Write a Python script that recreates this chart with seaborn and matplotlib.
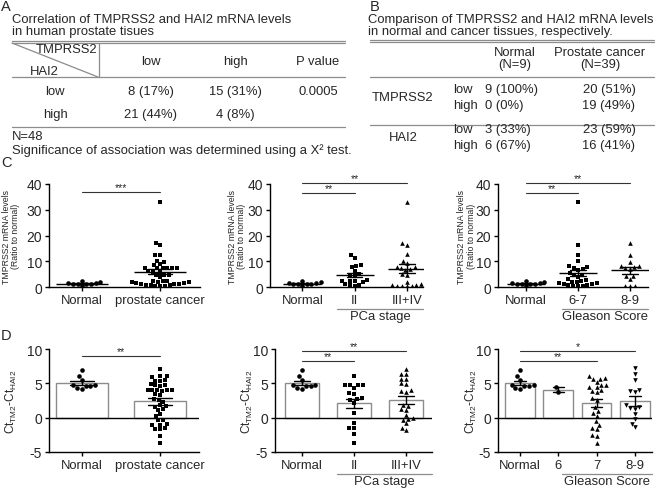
import warnings
import numpy as np
import pandas as pd
import matplotlib
matplotlib.use("Agg")
import matplotlib.pyplot as plt
import matplotlib.transforms as mtransforms
import seaborn as sns

warnings.filterwarnings("ignore")

########################################
# data
########################################
# C: TMPRSS2 mRNA levels (ratio to normal)
c_normal = [1.5, 1.3, 1.2, 0.3, 2.3, 1.2, 1.1, 1.4, 1.8]
c_pca = [33.0, 17.0, 16.3, 12.5, 12.3, 10.2, 9.8, 8.8, 8.6, 7.4, 7.5, 7.3, 7.4,
         7.2, 7.5, 6.0, 6.1, 5.8, 4.8, 4.6, 4.7, 3.8, 2.5, 2.4, 2.2, 2.0, 1.9,
         1.8, 1.6, 1.4, 1.3, 1.2, 1.0, 0.9, 0.8, 0.6, 0.5, 0.3, 0.2]
c_stage2 = [12.5, 11.2, 8.5, 8.3, 7.6, 6.2, 5.0, 4.5, 4.3, 2.7, 2.5, 2.4, 2.3,
            2.0, 1.2, 0.9, 0.7, 0.5]
c_stage34 = [33.0, 17.0, 16.5, 12.8, 10.0, 9.2, 7.8, 7.5, 7.6, 7.0, 6.5, 5.2,
             4.8, 2.0, 1.0, 0.5, 0.4, 0.3, 0.2, 0.6, 0.8]
c_gs67 = [33.0, 16.3, 12.5, 10.2, 8.0, 7.8, 7.2, 7.0, 6.5, 5.5, 4.8, 4.6, 3.8,
          3.2, 2.6, 2.4, 2.1, 1.9, 1.7, 1.5, 1.3, 1.1, 0.9, 0.7, 0.5, 0.3, 0.2]
c_gs89 = [17.0, 12.3, 9.8, 8.2, 7.8, 7.5, 8.0, 7.0, 4.4, 4.2, 3.0, 0.4, 0.2, 0.5]

# D: Ct(TM2) - Ct(HAI2)
d_normal = [6.9, 6.0, 5.5, 4.7, 4.6, 4.7, 4.6, 4.3, 4.2]
d_pca = [7.1, 6.1, 6.0, 5.9, 5.5, 5.4, 5.3, 4.9, 4.8, 4.7, 4.6, 4.1, 4.0, 4.0,
         3.9, 4.1, 4.0, 3.4, 3.3, 2.7, 2.6, 2.3, 1.8, 1.7, 1.6, 1.2, 1.1, 0.5,
         0.2, -0.3, -0.4, -0.9, -1.0, -1.6, -1.5, -1.7, -2.6, -3.7, -1.1]
d_stage2 = [6.0, 4.8, 4.7, 4.8, 4.7, 4.3, 3.6, 3.5, 2.8, 2.7, 2.6, 2.2, 0.7,
            -0.8, -1.5, -1.5, -2.4, -3.7]
d_stage34 = [7.1, 6.4, 6.3, 5.7, 5.6, 5.0, 4.9, 4.0, 3.9, 3.8, 1.8, 1.7, 1.1,
             1.2, 0.4, -0.2, -0.1, -0.3, -0.8, -1.5, -1.8]
d_gs6 = [3.8, 4.4]
d_gs7 = [6.0, 5.8, 5.7, 5.6, 5.2, 4.8, 4.7, 4.5, 4.4, 4.0, 3.9, 3.8, 2.8, 2.6,
         1.5, 1.0, 0.7, 0.2, -0.5, -1.0, -1.6, -1.5, -2.5, -2.6, -3.7]
d_gs89 = [7.2, 6.4, 5.5, 4.0, 3.8, 3.9, 1.8, 1.5, 1.4, 1.2, 0.5, -0.2, -0.9, -1.4]

# A: table
a_title = ["Correlation of TMPRSS2 and HAI2 mRNA levels", "in human prostate tisues"]
a_cols = ["low", "high", "P value"]
a_rows = ["low", "high"]
a_cells = [["8 (17%)", "15 (31%)", "0.0005"],
           ["21 (44%)", "4 (8%)", ""]]
a_notes = ["N=48", "Significance of association was determined using a X\u00b2 test."]

# B: table
b_title = ["Comparison of TMPRSS2 and HAI2 mRNA levels",
           "in normal and cancer tissues, respectively."]
b_cols = ["Normal\n(N=9)", "Prostate cancer\n(N=39)"]
b_genes = ["TMPRSS2", "HAI2"]
b_levels = ["low", "high"]
b_normal = [["9 (100%)", "0 (0%)"], ["3 (33%)", "6 (67%)"]]
b_cancer = [["20 (51%)", "19 (49%)"], ["23 (59%)", "16 (41%)"]]

########################################
# style
########################################
sns.set_style("ticks")
plt.rcParams["font.family"] = ["Liberation Sans", "DejaVu Sans"]
plt.rcParams["mathtext.default"] = "regular"
plt.rcParams["axes.unicode_minus"] = False
FS = 9.4      # table text
XFS = 9.4     # category labels
YFS = 10      # y tick labels
W, H = 658, 489
fig = plt.figure(figsize=(W / 100, H / 100), dpi=100)


def px_axes(l, t, r, b):
    ax = fig.add_axes([l / W, 1 - b / H, (r - l) / W, (b - t) / H])
    ax.patch.set_alpha(0)
    return ax


# canvas in pixel units for the tables and panel letters
cv = fig.add_axes([0, 0, 1, 1])
cv.set_xlim(0, W)
cv.set_ylim(H, 0)
cv.axis("off")

rule = dict(color="#8c8c8c", lw=0.9)
for letter, (x, y) in zip("ABCD", [(1, 7), (370, 7), (1, 163), (1, 336)]):
    cv.text(x, y, letter, fontsize=10.5, va="center", ha="left")

##########
# table A
##########
for i, line in enumerate(a_title):
    cv.text(12, 20 + 12 * i, line, fontsize=FS, va="center")
for y in (42, 44.2):
    cv.plot([12, 345], [y, y], **rule)
cv.plot([12, 98], [44, 78], **rule)
cv.plot([99, 99], [44, 78], **rule)
cv.text(97, 50, "TMPRSS2", fontsize=FS, va="center", ha="right")
cv.text(30, 72, "HAI2", fontsize=FS, va="center", ha="left")
col_x = [151, 235, 318]
for x, c in zip(col_x, a_cols):
    cv.text(x, 62, c, fontsize=FS, va="center", ha="center")
cv.plot([12, 345], [78, 78], **rule)
for j, (r, row) in enumerate(zip(a_rows, a_cells)):
    y = 92 + 23 * j
    cv.text(55, y, r, fontsize=FS, va="center", ha="center")
    for x, v in zip(col_x, row):
        cv.text(x, y, v, fontsize=FS, va="center", ha="center")
cv.plot([12, 345], [128, 128], **rule)
for i, line in enumerate(a_notes):
    cv.text(12, 137 + 14 * i, line, fontsize=FS, va="center")

##########
# table B
##########
for i, line in enumerate(b_title):
    cv.text(368, 20 + 12 * i, line, fontsize=FS, va="center")
for y in (41, 43.2):
    cv.plot([370, 654], [y, y], **rule)
for x, c in zip([515, 600], b_cols):
    cv.text(x, 59, c, fontsize=FS, va="center", ha="center", linespacing=1.0)
cv.plot([370, 654], [78, 78], **rule)
for g, gene in enumerate(b_genes):
    y0 = 98 + 40 * g
    cv.text(403, y0, gene, fontsize=FS, va="center", ha="center")
    for k, lev in enumerate(b_levels):
        y = y0 - 8 + 16 * k
        cv.text(453, y, lev, fontsize=FS, va="center", ha="left")
        cv.text(485, y, b_normal[g][k], fontsize=FS, va="center", ha="left")
        cv.text(609, y, b_cancer[g][k], fontsize=FS, va="center", ha="center")
cv.plot([370, 654], [126, 126], **rule)


########################################
# scatter / bar panels
########################################
def panel(ax, groups, markers, kind, xlim, ylim, yticks, ylabel, ylab_x,
          sigs, ylab_fs, group_label=None, width=0.66, mean_ms=30):
    cats = [g[0] for g in groups]
    df = pd.concat([pd.DataFrame({"grp": n, "val": v}) for n, v in groups])
    if kind == "bar":
        sns.barplot(df, x="grp", y="val", order=cats, errorbar=None,
                    width=width, color="white", edgecolor="#8c8c8c",
                    linewidth=1.0, ax=ax)
    for (n, v), m in zip(groups, markers):
        sns.swarmplot(x=[n] * len(v), y=v, order=cats, marker=m, color="k",
                      size=3.3, ax=ax, zorder=3)
    sns.pointplot(df, x="grp", y="val", order=cats, errorbar="se",
                  capsize=0.3, markers="_", linestyle="none", color="k",
                  markersize=mean_ms if kind == "dot" else 0,
                  markeredgewidth=1.0, err_kws={"linewidth": 1.0}, ax=ax)
    if kind == "bar":
        ax.axhline(0, color="k", lw=1.0, zorder=1)
    ax.set_xlim(*xlim)
    ax.set_ylim(*ylim)
    ax.set_yticks(yticks)
    ax.set_xticks(range(len(cats)))
    ax.set_xticklabels(cats)
    ax.set_xlabel("")
    ax.set_ylabel(ylabel, fontsize=ylab_fs, linespacing=1.0)
    ax.yaxis.set_label_coords(ylab_x, 0.5)
    ax.tick_params(length=3, width=1.0, pad=2, color="k")
    ax.tick_params(axis="x", labelsize=XFS)
    ax.tick_params(axis="y", labelsize=YFS)
    sns.despine(ax=ax)
    for s in ("left", "bottom"):
        ax.spines[s].set_linewidth(1.0)
        ax.spines[s].set_color("k")
    for i, j, y, stars in sigs:
        ax.plot([i, j], [y, y], color="#333333", lw=0.8, clip_on=False)
        ax.text((i + j) / 2, y, stars, ha="center", va="bottom", fontsize=7.5,
                clip_on=False)
    if group_label:
        txt, x0, x1 = group_label
        tr = mtransforms.blended_transform_factory(ax.transData, ax.transAxes)
        ax.plot([x0, x1], [-0.21, -0.21], color="#8c8c8c", lw=0.9,
                transform=tr, clip_on=False)
        ax.text((x0 + x1) / 2, -0.285, txt, transform=tr, ha="center",
                va="center", fontsize=XFS)


c_lab = "TMPRSS2 mRNA levels\n(Ratio to normal)"
d_lab = "Ct$_{TM2}$-Ct$_{HAI2}$"
c_ticks = [0, 10, 20, 30, 40]
d_ticks = [-5, 0, 5, 10]

panel(px_axes(49, 185, 200, 288),
      [("Normal", c_normal), ("prostate cancer", c_pca)], ["o", "s"], "dot",
      (-0.42, 1.51), (0, 40), c_ticks, c_lab, -0.19,
      [(0, 1, 36.9, "***")], 6.3, mean_ms=37)
panel(px_axes(270, 185, 423, 288),
      [("Normal", c_normal), ("II", c_stage2), ("III+IV", c_stage34)],
      ["o", "s", "^"], "dot", (-0.62, 2.31), (0, 40), c_ticks, c_lab, -0.155,
      [(0, 1, 36.5, "**"), (0, 2, 40.4, "**")], 6.3,
      group_label=("PCa stage", 0.67, 2.31), mean_ms=27)
panel(px_axes(498, 185, 648, 288),
      [("Normal", c_normal), ("6-7", c_gs67), ("8-9", c_gs89)],
      ["o", "s", "^"], "dot", (-0.54, 2.35), (0, 40), c_ticks, c_lab, -0.15,
      [(0, 1, 36.5, "**"), (0, 2, 40.4, "**")], 6.3,
      group_label=("Gleason Score", 0.69, 2.35), mean_ms=27)

panel(px_axes(49, 350, 199, 453),
      [("Normal", d_normal), ("prostate cancer", d_pca)], ["o", "s"], "bar",
      (-0.42, 1.5), (-5, 10), d_ticks, d_lab, -0.2,
      [(0, 1, 9.0, "**")], 8.5, width=0.67)
panel(px_axes(275, 350, 432, 453),
      [("Normal", d_normal), ("II", d_stage2), ("III+IV", d_stage34)],
      ["o", "s", "^"], "bar", (-0.52, 2.5), (-5, 10), d_ticks, d_lab, -0.125,
      [(0, 1, 8.3, "**"), (0, 2, 9.75, "**")], 8.5,
      group_label=("PCa stage", 0.67, 2.5), width=0.67)
panel(px_axes(498, 350, 652, 453),
      [("Normal", d_normal), ("6", d_gs6), ("7", d_gs7), ("8-9", d_gs89)],
      ["o", "o", "^", "v"], "bar", (-0.58, 3.45), (-5, 10), d_ticks, d_lab,
      -0.125, [(0, 2, 8.25, "**"), (0, 3, 9.7, "*")], 8.5,
      group_label=("Gleason Score", 1.1, 3.45), width=0.78)

fig.savefig("out.png", dpi=100)
